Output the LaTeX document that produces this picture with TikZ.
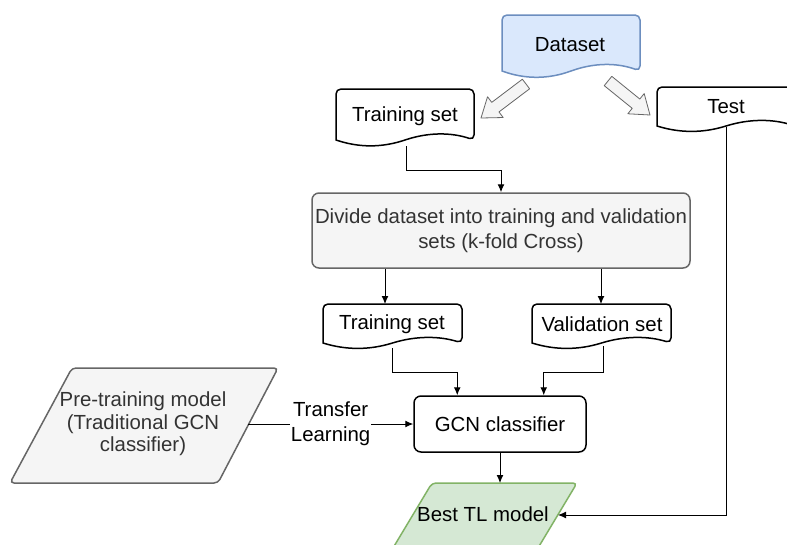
\documentclass[tikz,border=0pt]{standalone}
\usepackage{fontspec}
\setmainfont{Liberation Sans}
\usetikzlibrary{arrows.meta,calc}
\definecolor{blueF}{HTML}{DAE8FC}
\definecolor{blueD}{HTML}{6C8EBF}
\definecolor{greyF}{HTML}{F5F5F5}
\definecolor{greyD}{HTML}{666666}
\definecolor{greyT}{HTML}{333333}
\definecolor{greenF}{HTML}{D5E8D4}
\definecolor{greenD}{HTML}{82B366}

% document shape: x0 x1 top m dy style
\newcommand{\docshape}[6]{%
 \draw[#6] (#1,#4) [rounded corners=5] -- (#1,#3) -- (#2,#3) -- (#2,#4) [sharp corners]
 .. controls ({#2-(#2-#1)/6},{#4-0.6*#5}) and ({(#1+#2)/2+(#2-#1)/6},{#4-0.6*#5}) .. ({(#1+#2)/2},#4)
 .. controls ({(#1+#2)/2-(#2-#1)/6},{#4+0.6*#5}) and ({#1+(#2-#1)/6},{#4+0.6*#5}) .. (#1,#4) -- cycle;}

% block arrow from tail to tip
\newcommand{\blockarrow}[2]{%
 \coordinate (hb) at ($(#2)!18pt!(#1)$);
 \draw[greyD, fill=greyF, line width=0.8pt, line join=round]
   ($(#1)!6pt!90:(#2)$) -- ($(hb)!6pt!-90:(#1)$) -- ($(hb)!13pt!-90:(#1)$) -- (#2)
   -- ($(hb)!13pt!90:(#1)$) -- ($(hb)!6pt!90:(#1)$) -- ($(#1)!6pt!-90:(#2)$) -- cycle;}

\begin{document}
\begin{tikzpicture}[x=1pt,y=-1pt,
  txt/.style={font=\fontsize{20.4}{24}\selectfont, inner sep=0pt, align=center},
  conn/.style={line width=1pt, -{Latex[length=8pt,width=7pt]}},
  docst/.style={draw=black, fill=white, line width=1.5pt},
]
\clip (0,0) rectangle (787,544);
\fill[white] (0,0) rectangle (787,544);

% document shapes
\docshape{502}{640}{15}{71}{14}{draw=blueD, fill=blueF, line width=1.5pt}
\node[txt] (dsT) at (570,45) {Dataset};

\docshape{336}{474}{89}{140}{13}{docst}
\node[txt] (trT) at (405,116) {Training set};

\docshape{657}{795}{87}{126}{12}{docst}
\node[txt] (teT) at (726,107) {Test};

\docshape{323}{462}{304}{343}{12}{docst}
\node[txt] (tr2T) at (392,324) {Training set};

\docshape{532}{671}{304}{343}{12}{docst}
\node[txt] (valT) at (602,324) {Validation set};

% block arrows
\coordinate (a1t) at (526,84);
\coordinate (a1h) at (481,118);
\coordinate (a2t) at (608,81);
\coordinate (a2h) at (650,115);
\blockarrow{a1t}{a1h}
\blockarrow{a2t}{a2h}

% divide box
\node[txt, draw=greyD, fill=greyF, text=greyT, line width=1.5pt, rounded corners=7pt,
  minimum width=378pt, minimum height=75pt, font=\fontsize{20.4}{25}\selectfont]
  (divide) at (501,230.5) {Divide dataset into training and validation\\sets (k-fold Cross)};

% GCN
\node[txt, draw=black, fill=white, line width=1.5pt, rounded corners=7pt,
  minimum width=172pt, minimum height=56pt] (gcn) at (500,424) {GCN classifier};

% pre-training parallelogram
\draw[draw=greyD, fill=greyF, line width=1.5pt, rounded corners=4pt]
  (72,368) -- (278,368) -- (218,483) -- (10,483) -- cycle;
\node[txt, text=greyT, font=\fontsize{20.4}{22.5}\selectfont] (pre) at (143,424)
  {Pre-training model\\(Traditional GCN\\classifier)};
\coordinate (preR) at (248,424);

% best TL model parallelogram
\draw[draw=greenD, fill=greenF, line width=1.5pt, rounded corners=4pt]
  (432,483) -- (577,483) -- (535,553) -- (390,553) -- cycle;
\node[txt] (best) at (483,514) {Best TL model};
\coordinate (bestR) at (558,515);
\coordinate (bestN) at (500,483);

% connectors
\coordinate (trB) at (406,146);
\draw[conn] (trB) -- (406,170) -| (divide.north);

\coordinate (tr2N) at (385,304);
\coordinate (valN) at (601,304);
\draw[conn] (divide.south -| tr2N) -- (tr2N);
\draw[conn] (divide.south -| valN) -- (valN);

\coordinate (tr2B) at (392,348);
\coordinate (valB) at (603,346);
\coordinate (g1) at ($(gcn.north west)+(44,0)$);
\coordinate (g2) at ($(gcn.north east)+(-43,0)$);
\draw[conn] (tr2B) -- (392,372) -| (g1);
\draw[conn] (valB) -- (603,372) -| (g2);

\draw[conn] (preR) -- (gcn.west)
  node[pos=0.5, fill=white, txt, inner sep=1pt, font=\fontsize{20.4}{25}\selectfont] (tl) {Transfer\\Learning};

\draw[conn] (gcn.south) -- (bestN);

\coordinate (teB) at (726,127);
\draw[conn] (teB) |- (bestR);
\end{tikzpicture}
\end{document}
